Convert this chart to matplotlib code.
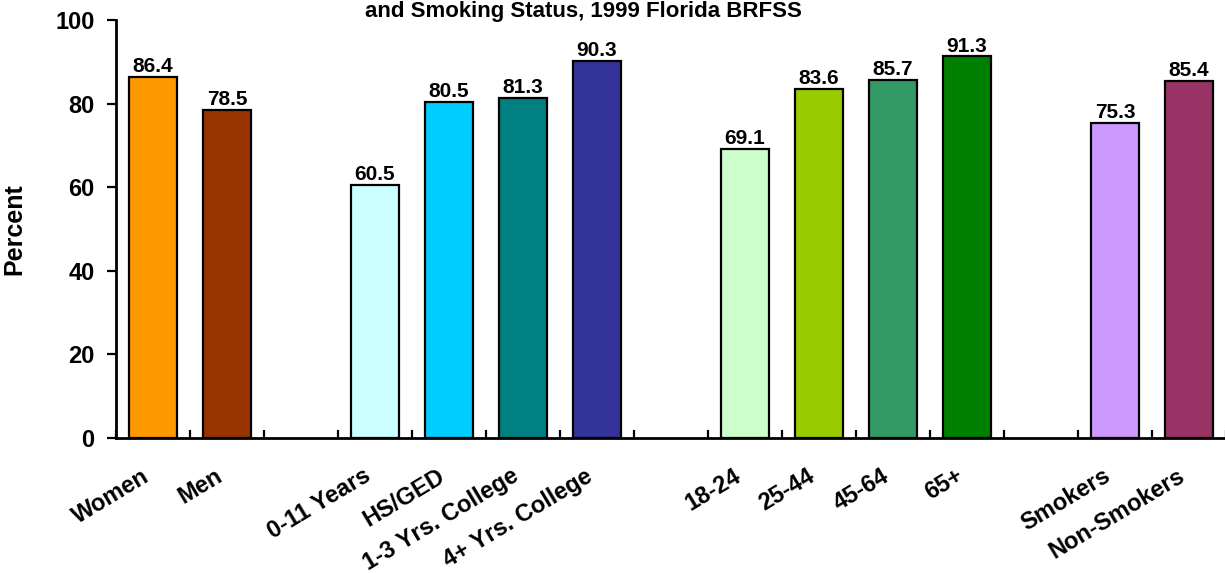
import matplotlib
matplotlib.use("Agg")
import matplotlib.pyplot as plt
import matplotlib.transforms as mtransforms
import numpy as np

plt.rcParams['font.family'] = ['Liberation Sans', 'DejaVu Sans']
plt.rcParams['font.weight'] = 'bold'

# data, grouped: sex, education, age, smoking status
groups = [
    ["Women", "Men"],
    ["0-11 Years", "HS/GED", "1-3 Yrs. College", "4+ Yrs. College"],
    ["18-24", "25-44", "45-64", "65+"],
    ["Smokers", "Non-Smokers"],
]
values = [
    [86.4, 78.5],
    [60.5, 80.5, 81.3, 90.3],
    [69.1, 83.6, 85.7, 91.3],
    [75.3, 85.4],
]
colors = [
    ["#FF9900", "#993300"],
    ["#CCFFFF", "#00CCFF", "#008080", "#333399"],
    ["#CCFFCC", "#99CC00", "#339966", "#008000"],
    ["#CC99FF", "#993366"],
]

# slot positions with one empty slot between groups
labels, vals, cols, pos = [], [], [], []
slot = 0
for g, v, c in zip(groups, values, colors):
    for lab, val, col in zip(g, v, c):
        labels.append(lab)
        vals.append(val)
        cols.append(col)
        pos.append(slot)
        slot += 1
    slot += 1
n_slots = slot - 1

fig = plt.figure(figsize=(12.25, 5.73), dpi=100)
ax = fig.add_axes([116 / 1225, 1 - 438 / 573, 1110 / 1225, 418 / 573])

ax.bar(pos, vals, width=0.64, color=cols, edgecolor='black', linewidth=1.6, zorder=3)
for x, v in zip(pos, vals):
    ax.text(x, v + 0.2, f"{v:.1f}", ha='center', va='bottom', fontsize=15, fontweight='bold')

ax.set_xlim(-0.5, n_slots - 0.5)
ax.set_ylim(0, 100)
ax.set_yticks(np.arange(0, 101, 20))
ax.tick_params(axis='y', labelsize=17, width=1.6, length=6.5, pad=9)
for t in ax.get_yticklabels():
    t.set_fontweight('bold')

ax.set_xticks(pos)
ax.set_xticklabels(labels, rotation=31, ha='right', rotation_mode='anchor',
                   fontsize=17, fontweight='bold')
ax.tick_params(axis='x', which='major', length=0, pad=19)
shift = mtransforms.ScaledTranslation(-12 / 100, 0, fig.dpi_scale_trans)
for t in ax.get_xticklabels():
    t.set_transform(t.get_transform() + shift)
ax.set_xticks(np.arange(-0.5, n_slots, 1.0), minor=True)
ax.tick_params(axis='x', which='minor', direction='in', length=6, width=1.6)

ax.set_ylabel("Percent", fontsize=18, fontweight='bold')
ax.yaxis.set_label_coords((26 - 116) / 1110, 0.5)

for s in ['top', 'right']:
    ax.spines[s].set_visible(False)
for s in ['left', 'bottom']:
    ax.spines[s].set_linewidth(2)

fig.text(583 / 1225, 1 - 11 / 573, "and Smoking Status, 1999 Florida BRFSS",
         ha='center', va='center', fontsize=16, fontweight='bold')

fig.savefig("out.png", dpi=100)
